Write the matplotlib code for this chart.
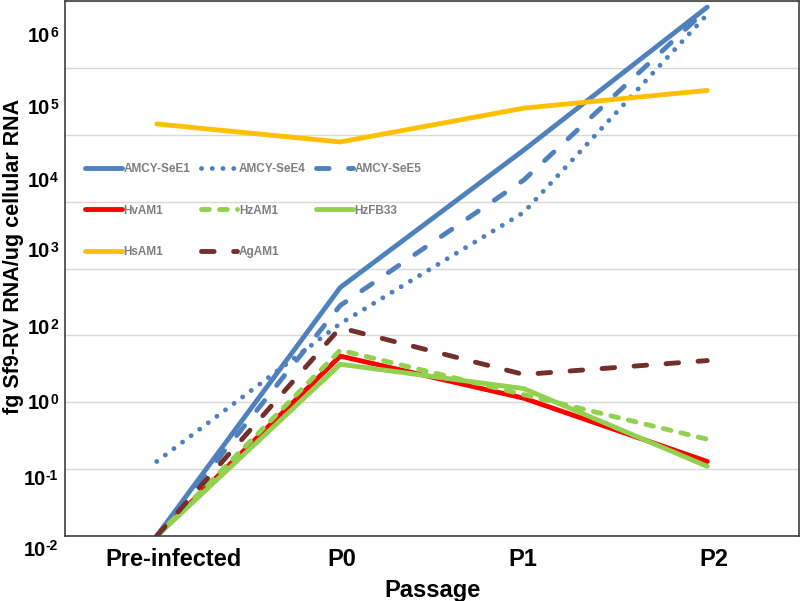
import matplotlib
matplotlib.use("Agg")
import matplotlib.pyplot as plt
import matplotlib.transforms as mtransforms
import numpy as np

plt.rcParams['font.family'] = ['Liberation Sans', 'DejaVu Sans']

# ---- data ----
categories = ['Pre-infected', 'P0', 'P1', 'P2']
amcy_see1 = [0.01, 52, 5900, 8.1e5]
amcy_see4 = [0.13, 15, 690, 6.3e5]
amcy_see5 = [0.01, 28, 2100, 7.6e5]
hvam1 = [0.01, 4.9, 1.15, 0.13]
hzam1 = [0.01, 6.0, 1.3, 0.28]
hzfb33 = [0.01, 3.7, 1.6, 0.11]
hsam1 = [14500, 7800, 25000, 46000]
agam1 = [0.01, 13, 2.6, 4.2]

ytick_base = ['10'] * 8
ytick_exp = ['-2', '-1', '0', '2', '3', '4', '5', '6']
# label vertical placement (log10 units, as drawn in the original)
ytick_label_pos = [-2.19, -1.14, 0.0, 1.12, 2.27, 3.32, 4.41, 5.49]
xtick_offsets_px = [17, 2, -1, 7]

fig = plt.figure(figsize=(8, 6.01), dpi=100)
W, H = 800, 601
left, right, top, bottom = 65, 799, 1, 536
ax = fig.add_axes([left / W, 1 - bottom / H, (right - left) / W, (bottom - top) / H])

x = np.arange(len(categories))
lw = 3.5
blue = '#4F81BD'
series = [
    ('AMCY-SeE1', amcy_see1, blue, '-'),
    ('AMCY-SeE4', amcy_see4, blue, (0, (0.01, 2.2))),
    ('AMCY-SeE5', amcy_see5, blue, (0, (2.6, 4.0))),
    ('HvAM1', hvam1, '#FF0000', '-'),
    ('HzAM1', hzam1, '#92D050', (0, (1.6, 2.1))),
    ('HzFB33', hzfb33, '#92D050', '-'),
    ('HsAM1', hsam1, '#FFC000', '-'),
    ('AgAM1', agam1, '#722F2C', (0, (2.6, 4.0))),
]
handles = {}
for name, vals, col, ls in series:
    ln, = ax.plot(x, vals, color=col, lw=lw, linestyle=ls,
                  dash_capstyle='round', solid_capstyle='round', label=name)
    handles[name] = ln

ax.set_yscale('log')
ax.set_ylim(1e-2, 1e6)
ax.set_xlim(-0.5, 3.5)

ax.yaxis.set_major_locator(matplotlib.ticker.LogLocator(base=10, numticks=20))
ax.yaxis.set_minor_locator(matplotlib.ticker.NullLocator())
ax.grid(axis='y', which='major', color='#D9D9D9', lw=1)
ax.set_axisbelow(True)
ax.tick_params(axis='y', which='both', left=False, labelleft=False)

for sp in ax.spines.values():
    sp.set_color('#404040')
    sp.set_linewidth(1.2)

# y tick labels: "10" plus a raised exponent, right-aligned together
fig.canvas.draw()
renderer = fig.canvas.get_renderer()
trans = mtransforms.blended_transform_factory(ax.transAxes, ax.transData)
x_right = (58 - left) / (right - left)
for base, exp, pos in zip(ytick_base, ytick_exp, ytick_label_pos):
    et = ax.text(x_right, 10 ** pos, exp, ha='right', va='baseline',
                 fontsize=10, fontweight='bold', clip_on=False,
                 transform=trans + mtransforms.ScaledTranslation(0, -1.4 / 100, fig.dpi_scale_trans))
    w = et.get_window_extent(renderer).width
    ax.text(x_right, 10 ** pos, base, ha='right', va='baseline',
            fontsize=14.5, fontweight='bold', clip_on=False,
            transform=trans + mtransforms.ScaledTranslation(-w / 100, -7 / 100, fig.dpi_scale_trans))

# x tick labels
ax.set_xticks(x)
ax.set_xticklabels(categories, fontsize=17, fontweight='bold')
ax.tick_params(axis='x', length=0, pad=9)
for lab, dx in zip(ax.get_xticklabels(), xtick_offsets_px):
    lab.set_transform(lab.get_transform() +
                      mtransforms.ScaledTranslation(dx / 100, 0, fig.dpi_scale_trans))

ax.set_xlabel('Passage', fontsize=17, fontweight='bold', labelpad=5.5)
fig.text(14 / W, 1 - 256 / H, 'fg Sf9-RV RNA/ug cellular RNA', rotation=90,
         ha='center', va='center', fontsize=15.5, fontweight='bold')

order = ['AMCY-SeE1', 'HvAM1', 'HsAM1', 'AMCY-SeE4', 'HzAM1', 'AgAM1', 'AMCY-SeE5', 'HzFB33']
leg = ax.legend([handles[n] for n in order], order, ncol=3, loc='upper left',
                bbox_to_anchor=((85 - left) / (right - left), (bottom - 163) / (bottom - top)),
                frameon=False, borderpad=0, borderaxespad=0,
                prop={'weight': 'bold', 'size': 8.5}, labelcolor='#7F7F7F',
                handlelength=3.1, handletextpad=0.17, columnspacing=0.85,
                labelspacing=2.5)

fig.savefig('out.png', dpi=100)
